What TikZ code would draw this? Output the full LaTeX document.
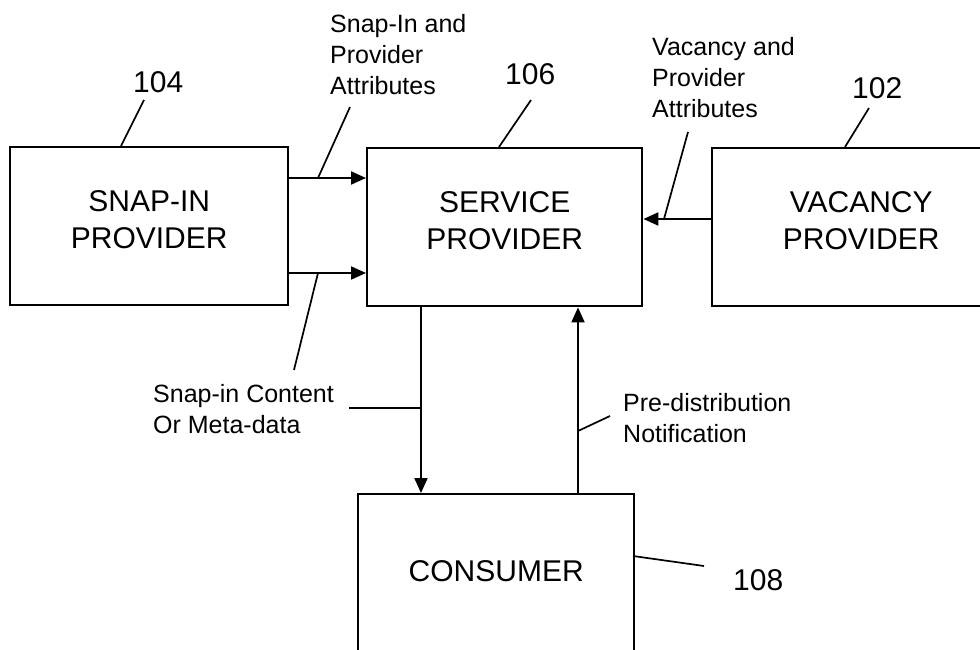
\documentclass[tikz,border=0pt]{standalone}
\usepackage{fontspec}
\setmainfont{Liberation Sans}
\usetikzlibrary{arrows.meta}
\begin{document}
\begin{tikzpicture}[x=1pt,y=-1pt,
  box/.style={draw, line width=2.4pt, anchor=north west, inner sep=0pt, align=center,
    font=\fontsize{30}{37}\selectfont},
  twoline/.style={text depth=14pt},
  arr/.style={line width=2pt, -{Triangle[length=15pt,width=13pt]}},
  leader/.style={line width=1.7pt},
  lbl/.style={anchor=north west, inner sep=0pt, align=left, font=\fontsize{25}{31}\selectfont},
  num/.style={anchor=base west, inner sep=0pt, font=\fontsize{30}{36}\selectfont}]
\useasboundingbox (0,0) rectangle (980,650);
\clip (0,0) rectangle (980,650);
% boxes
\node[box, twoline, minimum width=278pt, minimum height=158pt] (snap) at (9,146) {SNAP-IN\\PROVIDER};
\node[box, twoline, minimum width=275pt, minimum height=158pt] (service) at (366,147) {SERVICE\\PROVIDER};
\node[box, twoline, minimum width=298pt, minimum height=158pt] (vacancy) at (711,147) {VACANCY\\PROVIDER};
\node[box, minimum width=276pt, minimum height=175pt, text height=22pt, text depth=22pt] (consumer) at (357,493) {CONSUMER};
% helper coordinates
\coordinate (ya) at (0,178);
\coordinate (yb) at (0,273);
\coordinate (yc) at (0,219);
\coordinate (xd) at (421,0);
\coordinate (xu) at (578,0);
% connectors
\draw[arr] (snap.east |- ya) -- (service.west |- ya);
\draw[arr] (snap.east |- yb) -- (service.west |- yb);
\draw[arr] (vacancy.west |- yc) -- (service.east |- yc);
\draw[arr] (service.south -| xd) -- (consumer.north -| xd);
\draw[arr] (consumer.north -| xu) -- (service.south -| xu);
% texts
\node[lbl] (t1) at (330,14) {Snap-In and\\Provider\\Attributes};
\node[lbl] (t2) at (652,37) {Vacancy and\\Provider\\Attributes};
\node[lbl] (t3) at (153,384) {Snap-in Content\\Or Meta-data};
\node[lbl] (t4) at (623,393) {Pre-distribution\\Notification};
\node[num] (n104) at (133,93) {104};
\node[num] (n106) at (505,85) {106};
\node[num] (n102) at (852,99) {102};
\node[num] (n108) at (733,590) {108};
% leader coordinates
\coordinate (a104) at (144,100); \coordinate (b104) at (121,146);
\coordinate (a106) at (531,100); \coordinate (b106) at (499,147);
\coordinate (a102) at (869,108); \coordinate (b102) at (845,147);
\coordinate (a108) at (704,566); \coordinate (b108) at (633,556);
\coordinate (at1) at (350,107); \coordinate (bt1) at (318,178);
\coordinate (at2) at (688,132); \coordinate (bt2) at (664,219);
\coordinate (at3) at (294,370); \coordinate (bt3) at (318,273);
\coordinate (ct3) at (349,408); \coordinate (dt3) at (421,408);
\coordinate (at4) at (610,416); \coordinate (bt4) at (578,431);
\draw[leader] (a104) -- (b104);
\draw[leader] (a106) -- (b106);
\draw[leader] (a102) -- (b102);
\draw[leader] (a108) -- (b108);
\draw[leader] (at1) -- (bt1);
\draw[leader] (at2) -- (bt2);
\draw[leader] (at3) -- (bt3);
\draw[leader] (ct3) -- (dt3);
\draw[leader] (at4) -- (bt4);
\end{tikzpicture}
\end{document}
